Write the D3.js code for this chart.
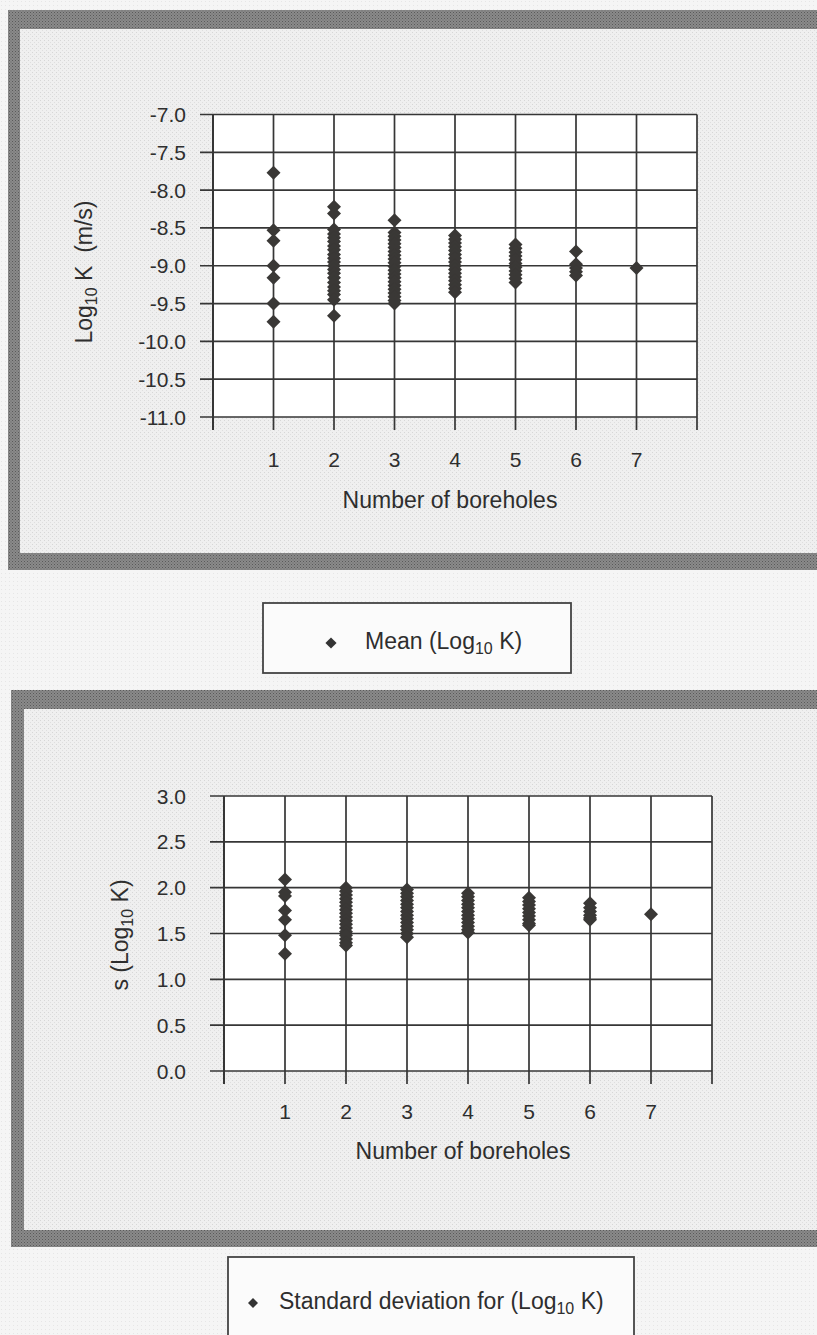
<!DOCTYPE html>
<html>
<head>
<meta charset="utf-8">
<script src="https://cdn.jsdelivr.net/npm/d3@7"></script>
<style>
  html, body { margin: 0; padding: 0; background: #f4f4f4; }
  svg { display: block; }
  text { font-family: "Liberation Sans", Arial, sans-serif; fill: #2e2e2e; }
</style>
</head>
<body>
<svg id="chart" width="817" height="1335"></svg>
<script>
// ---------------- DATA ----------------
const boreholeCounts = [1, 2, 3, 4, 5, 6, 7];
const xTickLabels = [1, 2, 3, 4, 5, 6, 7];

// Mean (Log10 K) per number of boreholes
const mean1 = [-7.77, -8.53, -8.67, -9.00, -9.16, -9.50, -9.74];
const mean2 = [-8.22, -8.31, -8.52, -8.58, -8.63, -8.68, -8.74, -8.79, -8.85, -8.90, -8.95, -9.00, -9.05, -9.10, -9.16, -9.22, -9.28, -9.33, -9.38, -9.45, -9.66];
const mean3 = [-8.40, -8.56, -8.61, -8.66, -8.71, -8.76, -8.81, -8.86, -8.91, -8.96, -9.01, -9.06, -9.11, -9.16, -9.21, -9.26, -9.31, -9.36, -9.41, -9.46, -9.50];
const mean4 = [-8.60, -8.65, -8.70, -8.75, -8.80, -8.85, -8.90, -8.95, -9.00, -9.05, -9.10, -9.15, -9.20, -9.25, -9.30, -9.35];
const mean5 = [-8.72, -8.77, -8.82, -8.87, -8.92, -8.97, -9.02, -9.07, -9.12, -9.17, -9.22];
const mean6 = [-8.81, -8.98, -9.03, -9.08, -9.13];
const mean7 = [-9.03];
const meanColumns = [mean1, mean2, mean3, mean4, mean5, mean6, mean7];
const meanTicks = [-7.0, -7.5, -8.0, -8.5, -9.0, -9.5, -10.0, -10.5, -11.0];

// Standard deviation for (Log10 K) per number of boreholes
const sd1 = [2.09, 1.95, 1.91, 1.75, 1.65, 1.48, 1.28];
const sd2 = [2.00, 1.96, 1.92, 1.88, 1.84, 1.80, 1.76, 1.72, 1.68, 1.64, 1.60, 1.56, 1.52, 1.48, 1.44, 1.40, 1.37];
const sd3 = [1.98, 1.94, 1.90, 1.86, 1.82, 1.78, 1.74, 1.70, 1.66, 1.62, 1.58, 1.54, 1.50, 1.46];
const sd4 = [1.94, 1.90, 1.86, 1.82, 1.78, 1.74, 1.70, 1.66, 1.62, 1.58, 1.54, 1.51];
const sd5 = [1.89, 1.85, 1.81, 1.77, 1.73, 1.69, 1.65, 1.61, 1.59];
const sd6 = [1.83, 1.78, 1.74, 1.70, 1.67, 1.65];
const sd7 = [1.71];
const sdColumns = [sd1, sd2, sd3, sd4, sd5, sd6, sd7];
const sdTicks = [0.0, 0.5, 1.0, 1.5, 2.0, 2.5, 3.0];

// ---------------- DRAWING ----------------
const svg = d3.select("#chart");
const defs = svg.append("defs");

// textured band (dark frame)
const band = defs.append("pattern").attr("id", "band")
  .attr("width", 3).attr("height", 3).attr("patternUnits", "userSpaceOnUse");
band.append("rect").attr("width", 3).attr("height", 3).attr("fill", "#8a8a8a");
band.append("rect").attr("x", 0).attr("y", 0).attr("width", 1).attr("height", 1).attr("fill", "#5a5a5a");
band.append("rect").attr("x", 1.5).attr("y", 1.5).attr("width", 1).attr("height", 1).attr("fill", "#686868");

// paper texture (inner frame)
const paper = defs.append("pattern").attr("id", "paper")
  .attr("width", 4).attr("height", 4).attr("patternUnits", "userSpaceOnUse");
paper.append("rect").attr("width", 4).attr("height", 4).attr("fill", "#efefef");
paper.append("rect").attr("x", 0).attr("y", 0).attr("width", 1).attr("height", 1).attr("fill", "#d6d6d6");
paper.append("rect").attr("x", 2).attr("y", 2).attr("width", 1).attr("height", 1).attr("fill", "#dedede");

// light page texture
const page = defs.append("pattern").attr("id", "page")
  .attr("width", 4).attr("height", 4).attr("patternUnits", "userSpaceOnUse");
page.append("rect").attr("width", 4).attr("height", 4).attr("fill", "#f5f5f5");
page.append("rect").attr("x", 1).attr("y", 1).attr("width", 1).attr("height", 1).attr("fill", "#e6e6e6");

svg.append("rect").attr("width", 817).attr("height", 1335).attr("fill", "url(#page)");

const diamond = d3.symbol().type(d3.symbolSquare);

function drawPanel(cfg) {
  const g = svg.append("g");
  // frame
  g.append("rect").attr("x", cfg.frame.x0).attr("y", cfg.frame.y0)
    .attr("width", cfg.frame.x1 - cfg.frame.x0).attr("height", cfg.frame.y1 - cfg.frame.y0)
    .attr("fill", "url(#band)");
  g.append("rect").attr("x", cfg.inner.x0).attr("y", cfg.inner.y0)
    .attr("width", cfg.inner.x1 - cfg.inner.x0).attr("height", cfg.inner.y1 - cfg.inner.y0)
    .attr("fill", "url(#paper)");

  const x = d3.scaleLinear().domain([0, 8]).range([cfg.plot.x0, cfg.plot.x1]);
  const y = d3.scaleLinear().domain(cfg.yDomain).range([cfg.plot.y1, cfg.plot.y0]);

  g.append("rect").attr("x", cfg.plot.x0).attr("y", cfg.plot.y0)
    .attr("width", cfg.plot.x1 - cfg.plot.x0).attr("height", cfg.plot.y1 - cfg.plot.y0)
    .attr("fill", "#ffffff");

  // horizontal gridlines + y ticks
  g.append("g").selectAll("line").data(cfg.yTicks).join("line")
    .attr("x1", cfg.plot.x0 - cfg.yTickLen).attr("x2", cfg.plot.x1)
    .attr("y1", d => y(d)).attr("y2", d => y(d))
    .attr("stroke", "#363636").attr("stroke-width", 1.7);
  // vertical gridlines + x ticks
  g.append("g").selectAll("line").data(d3.range(0, 9)).join("line")
    .attr("x1", d => x(d)).attr("x2", d => x(d))
    .attr("y1", cfg.plot.y0).attr("y2", cfg.plot.y1 + 13)
    .attr("stroke", "#363636").attr("stroke-width", d => d === 0 ? 2 : 1.7);

  // y tick labels
  g.append("g").selectAll("text").data(cfg.yTicks).join("text")
    .attr("x", cfg.yLabelRight).attr("y", d => y(d)).attr("dy", "0.36em")
    .attr("text-anchor", "end").attr("font-size", 21)
    .text(d => d.toFixed(1));
  // x tick labels
  g.append("g").selectAll("text").data(xTickLabels).join("text")
    .attr("x", d => x(d)).attr("y", cfg.xLabelBaseline)
    .attr("text-anchor", "middle").attr("font-size", 21)
    .text(d => d);

  // x title
  g.append("text").attr("x", cfg.xTitle.x).attr("y", cfg.xTitle.y)
    .attr("text-anchor", "middle").attr("font-size", 23)
    .text("Number of boreholes");

  // y title
  const yt = g.append("text")
    .attr("transform", `translate(${cfg.yTitle.x},${cfg.yTitle.y}) rotate(-90)`)
    .attr("text-anchor", "middle").attr("font-size", 23);
  yt.append("tspan").text(cfg.yTitle.pre);
  yt.append("tspan").attr("font-size", 16).attr("dy", 5).text("10");
  yt.append("tspan").attr("dy", -5).text(cfg.yTitle.post);

  // points
  const pts = [];
  boreholeCounts.forEach((n, i) => cfg.columns[i].forEach(v => pts.push({ n, v })));
  g.append("g").selectAll("path").data(pts).join("path")
    .attr("d", diamond.size(98)())
    .attr("transform", d => `translate(${x(d.n)},${y(d.v)}) rotate(45)`)
    .attr("fill", "#3a3836");

  // legend
  const L = cfg.legend;
  g.append("rect").attr("x", L.x0).attr("y", L.y0)
    .attr("width", L.x1 - L.x0).attr("height", L.y1 - L.y0)
    .attr("fill", "#fbfbfb").attr("stroke", "#444").attr("stroke-width", 1.8);
  g.append("path").attr("d", diamond.size(L.msize)())
    .attr("transform", `translate(${L.mx},${L.my}) rotate(45)`)
    .attr("fill", "#333");
  const lt = g.append("text").attr("x", L.tx).attr("y", L.ty).attr("font-size", 23);
  lt.append("tspan").text(L.pre);
  lt.append("tspan").attr("font-size", 16).attr("dy", 5).text("10");
  lt.append("tspan").attr("dy", -5).text(" K)");
}

drawPanel({
  frame: { x0: 8, y0: 10, x1: 830, y1: 570 },
  inner: { x0: 20, y0: 29, x1: 830, y1: 553 },
  plot: { x0: 213, x1: 697, y0: 114.5, y1: 417 },
  yDomain: [-11, -7],
  yTicks: meanTicks,
  yTickLen: 13,
  yLabelRight: 186,
  xLabelBaseline: 467,
  xTitle: { x: 450, y: 508 },
  yTitle: { x: 92, y: 272, pre: "Log", post: " K\u00a0 (m/s)" },
  columns: meanColumns,
  legend: { x0: 263, y0: 603, x1: 571, y1: 673, mx: 331, my: 643, msize: 62, tx: 365, ty: 649, pre: "Mean (Log" }
});

drawPanel({
  frame: { x0: 11, y0: 690, x1: 830, y1: 1247 },
  inner: { x0: 24, y0: 709, x1: 830, y1: 1230 },
  plot: { x0: 224, x1: 712, y0: 796, y1: 1071 },
  yDomain: [0, 3],
  yTicks: sdTicks,
  yTickLen: 14,
  yLabelRight: 186,
  xLabelBaseline: 1119,
  xTitle: { x: 463, y: 1159 },
  yTitle: { x: 128, y: 935, pre: "s (Log", post: " K)" },
  columns: sdColumns,
  legend: { x0: 228, y0: 1257, x1: 634, y1: 1360, mx: 253, my: 1303, msize: 50, tx: 279, ty: 1309, pre: "Standard deviation for (Log" }
});
</script>
</body>
</html>
